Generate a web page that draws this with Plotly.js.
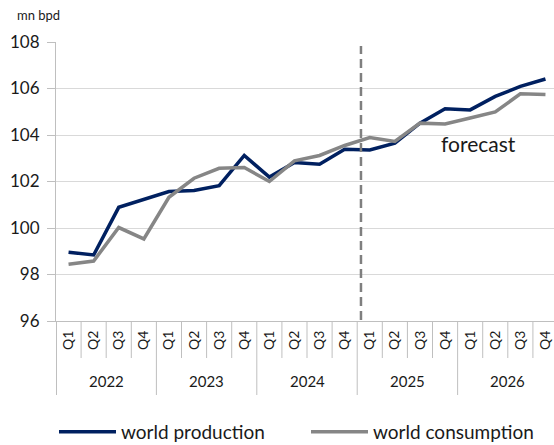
<!DOCTYPE html>
<html>
<head>
<meta charset="utf-8">
<script src="https://cdn.plot.ly/plotly-3.0.1.min.js"></script>
<style>
  html, body { margin: 0; padding: 0; background: #fff; }
  #chart { width: 554px; height: 445px; }
</style>
</head>
<body>
<div id="chart"></div>
<script>
const quarters = ['Q1','Q2','Q3','Q4','Q1','Q2','Q3','Q4','Q1','Q2','Q3','Q4','Q1','Q2','Q3','Q4','Q1','Q2','Q3','Q4'];
const years = ['2022','2023','2024','2025','2026'];
const production = [98.96, 98.84, 100.89, 101.24, 101.57, 101.61, 101.82, 103.12, 102.19, 102.82, 102.74, 103.39, 103.36, 103.65, 104.51, 105.13, 105.08, 105.66, 106.09, 106.41];
const consumption = [98.44, 98.58, 100.02, 99.53, 101.32, 102.14, 102.57, 102.60, 102.00, 102.89, 103.12, 103.55, 103.89, 103.72, 104.51, 104.47, 104.73, 104.99, 105.77, 105.74];
const seriesNames = ['world production', 'world consumption'];
const forecastStart = 12; // index of first forecast quarter (2025 Q1)

const FONT = 'Lato, "Open Sans", sans-serif';
const xIdx = quarters.map((_, i) => i);

const traces = [
  { x: xIdx, y: production, name: seriesNames[0], type: 'scatter', mode: 'lines',
    line: { color: '#002060', width: 3.5 } },
  { x: xIdx, y: consumption, name: seriesNames[1], type: 'scatter', mode: 'lines',
    line: { color: '#868686', width: 3.5 } }
];

const plotH = 279;
const py = p => (321 - p) / plotH;

const shapes = [];
for (let b = 0; b <= quarters.length; b++) {
  const isYear = b % 4 === 0;
  shapes.push({
    type: 'line', xref: 'x', yref: 'paper',
    x0: b - 0.5 + (b === 0 ? 0.02 : 0), x1: b - 0.5 + (b === 0 ? 0.02 : 0),
    y0: 0, y1: isYear ? py(395) : py(358),
    line: { color: '#bfbfbf', width: 1 }
  });
}
shapes.push({
  type: 'line', xref: 'x', yref: 'paper',
  x0: forecastStart - 0.35, x1: forecastStart - 0.35,
  y0: py(320), y1: py(46),
  line: { color: '#7f7f7f', width: 2.5, dash: '9px,5px' }
});

const annotations = years.map((yr, k) => ({
  xref: 'x', yref: 'paper', x: k * 4 + 1.5, y: py(381),
  text: yr, showarrow: false, xanchor: 'center', yanchor: 'middle',
  font: { family: FONT, size: 15, color: '#1a1a1a' }
}));
annotations.push({
  xref: 'x', yref: 'y', x: 16.33, y: 103.62, text: 'forecast', showarrow: false,
  xanchor: 'center', yanchor: 'middle',
  font: { family: FONT, size: 21, color: '#1a1a1a' }
});
annotations.push({
  xref: 'paper', yref: 'paper', x: (15 - 56) / 498, y: py(15), text: 'mn bpd', showarrow: false,
  xanchor: 'left', yanchor: 'middle',
  font: { family: FONT, size: 13, color: '#1a1a1a' }
});

const layout = {
  width: 554, height: 445,
  margin: { l: 56, r: 0, t: 42, b: 124, autoexpand: false },
  paper_bgcolor: '#ffffff', plot_bgcolor: '#ffffff',
  font: { family: FONT, color: '#1a1a1a' },
  showlegend: true,
  legend: {
    orientation: 'h', x: (54 - 56) / 498, xanchor: 'left', y: py(432), yanchor: 'middle',
    font: { family: FONT, size: 19, color: '#1a1a1a' },
    itemwidth: 57,
    entrywidth: 180, entrywidthmode: 'pixels', tracegroupgap: 0, itemclick: false
  },
  xaxis: {
    range: [-0.5, 19.34], tickmode: 'array', tickvals: xIdx, ticktext: quarters,
    tickangle: -90, tickfont: { family: FONT, size: 14, color: '#1a1a1a' },
    ticks: '', showgrid: false, zeroline: false, showline: true, linecolor: '#bfbfbf', linewidth: 1,
    fixedrange: true, ticklabelstandoff: 3, automargin: false
  },
  yaxis: {
    range: [96, 108], tickmode: 'linear', tick0: 96, dtick: 2,
    tickfont: { family: FONT, size: 17, color: '#1a1a1a' },
    showgrid: true, gridcolor: '#d9d9d9', gridwidth: 1, zeroline: false,
    showline: true, linecolor: '#bfbfbf', linewidth: 1,
    ticks: 'outside', ticklen: 8, tickcolor: '#bfbfbf', ticklabelstandoff: 4,
    fixedrange: true, automargin: false
  },
  shapes: shapes,
  annotations: annotations
};

Plotly.newPlot('chart', traces, layout, { displayModeBar: false, staticPlot: true });
</script>
</body>
</html>
